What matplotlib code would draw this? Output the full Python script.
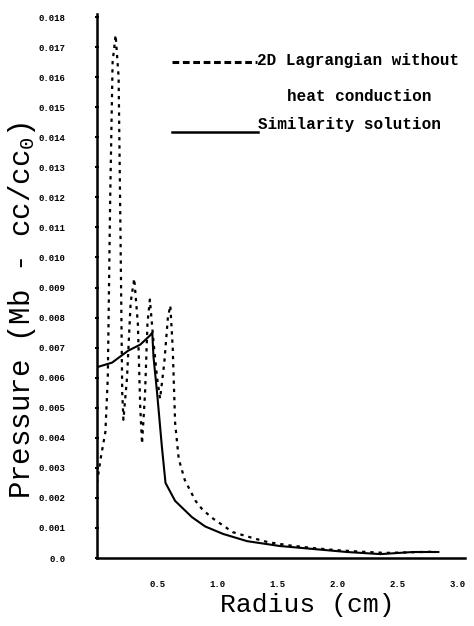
import matplotlib
matplotlib.use("Agg")
from matplotlib import pyplot as plt

# 2D Lagrangian without heat conduction (dotted)
lag_r = [0.0, 0.03, 0.07, 0.09, 0.11, 0.13, 0.155, 0.18, 0.195, 0.21, 0.22,
         0.25, 0.28, 0.31, 0.34, 0.36, 0.375, 0.40, 0.42, 0.44, 0.47, 0.50,
         0.525, 0.56, 0.59, 0.61, 0.63, 0.65, 0.68, 0.73, 0.82, 0.88, 0.97,
         1.13, 1.3, 1.42, 1.6, 1.8, 2.0, 2.2, 2.4, 2.6, 2.8]
lag_p = [0.0025, 0.0033, 0.0042, 0.0060, 0.0120, 0.0165, 0.0174, 0.0160,
         0.0110, 0.0055, 0.0046, 0.0060, 0.0085, 0.0093, 0.0078, 0.0050,
         0.0038, 0.0055, 0.0078, 0.0086, 0.0072, 0.0060, 0.0053, 0.0065,
         0.0080, 0.0084, 0.0070, 0.0045, 0.0033, 0.0026, 0.0019, 0.0016,
         0.0013, 0.00086, 0.00066, 0.00053, 0.00042, 0.00033, 0.00026,
         0.00021, 0.00017, 0.00019, 0.00021]

# similarity solution (solid)
sim_r = [0.0, 0.125, 0.26, 0.36, 0.44, 0.46, 0.47, 0.50, 0.54, 0.57, 0.65,
         0.79, 0.9, 1.05, 1.25, 1.52, 1.8, 2.08, 2.36, 2.63, 2.84]
sim_p = [0.00635, 0.0065, 0.0069, 0.0071, 0.0074, 0.0075, 0.0067, 0.0055,
         0.0037, 0.0025, 0.0019, 0.00136, 0.00105, 0.0008, 0.00056, 0.0004,
         0.0003, 0.0002, 0.00013, 0.0002, 0.0002]

yticks = [i / 1000 for i in range(0, 19)]
ylabels = ["0.0"] + ["%.3f" % v for v in yticks[1:]]
xticks = [0.5, 1.0, 1.5, 2.0, 2.5, 3.0]
xlabels = ["0.5", "1.0", "1.5", "2.0", "2.5", "3.0"]

mono = "Liberation Mono"

fig = plt.figure(figsize=(4.74, 6.26), dpi=100)
ax = fig.add_axes([0.2046, 0.1086, 0.776, 0.869])

ax.plot(lag_r, lag_p, color="black", lw=1.6, linestyle=(0, (1.5, 2.2)))
ax.plot(sim_r, sim_p, color="black", lw=1.5)

ax.set_xlim(0, 3.06)
ax.set_ylim(0, 0.0181)
for s in ["top", "right"]:
    ax.spines[s].set_visible(False)
for s in ["left", "bottom"]:
    ax.spines[s].set_linewidth(1.8)

ax.set_yticks(yticks)
ax.set_yticklabels(ylabels, fontfamily=mono, fontsize=6.5, fontweight="bold")
ax.set_xticks(xticks)
ax.set_xticklabels(xlabels, fontfamily=mono, fontsize=6.5, fontweight="bold")
ax.tick_params(axis="y", length=3, width=1.5, direction="inout", pad=21)
ax.tick_params(axis="x", length=0, pad=16)

fig.text(0.648, 0.034, "Radius (cm)", fontfamily=mono, fontsize=19,
         ha="center", va="center")
fig.text(0.046, 0.505, r"Pressure (Mb - cc/cc$\mathregular{_0}$)",
         fontfamily=mono, fontsize=21, rotation=90, ha="center", va="center")

# legend drawn by hand, as in the original
ax.plot([0.204, 0.435], [0.912, 0.912], transform=ax.transAxes,
        color="black", lw=2.2, linestyle=(0, (2.2, 1.2)), clip_on=False)
ax.plot([0.204, 0.438], [0.783, 0.783], transform=ax.transAxes,
        color="black", lw=1.8, clip_on=False)
ax.text(0.435, 0.914, "2D Lagrangian without", transform=ax.transAxes,
        fontfamily=mono, fontsize=11.5, fontweight="bold", va="center")
ax.text(0.516, 0.849, "heat conduction", transform=ax.transAxes,
        fontfamily=mono, fontsize=11.5, fontweight="bold", va="center")
ax.text(0.438, 0.797, "Similarity solution", transform=ax.transAxes,
        fontfamily=mono, fontsize=11.5, fontweight="bold", va="center")

plt.savefig("out.png", dpi=100)
